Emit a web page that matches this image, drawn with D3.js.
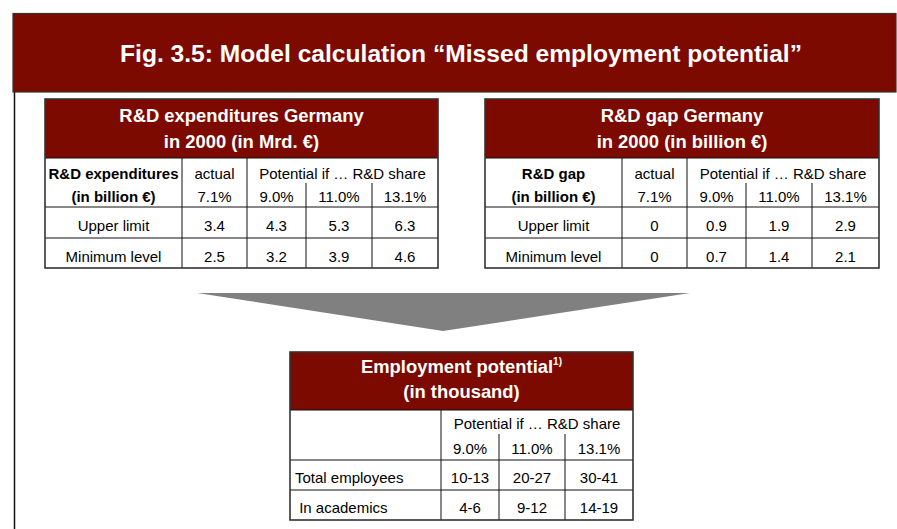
<!DOCTYPE html>
<html><head><meta charset="utf-8">
<script src="https://cdn.jsdelivr.net/npm/d3@7"></script>
<style>
html,body{margin:0;padding:0;background:#fff;}
svg{display:block;font-family:"Liberation Sans",Arial,sans-serif;}
text{white-space:pre;}
</style></head>
<body>
<script>
// ---------- data ----------
const figTitle = "Fig. 3.5: Model calculation \u201CMissed employment potential\u201D";
const expTitle = ["R&D expenditures Germany", "in 2000 (in Mrd. \u20AC)"];
const expHead = ["R&D expenditures", "(in billion \u20AC)"];
const gapTitle = ["R&D gap Germany", "in 2000 (in billion \u20AC)"];
const gapHead = ["R&D gap", "(in billion \u20AC)"];
const actualLabel = "actual";
const potentialLabel = "Potential if \u2026 R&D share";
const shares = ["7.1%", "9.0%", "11.0%", "13.1%"];
const rowLabels = ["Upper limit", "Minimum level"];
const expUpper = [3.4, 4.3, 5.3, 6.3];
const expMin = [2.5, 3.2, 3.9, 4.6];
const gapUpper = [0, 0.9, 1.9, 2.9];
const gapMin = [0, 0.7, 1.4, 2.1];
const empTitle = ["Employment potential", "(in thousand)"];
const empNote = "1)";
const empShares = ["9.0%", "11.0%", "13.1%"];
const empRows = ["Total employees", " In academics"];
const empTotal = ["10-13", "20-27", "30-41"];
const empAcad = ["4-6", "9-12", "14-19"];

// ---------- style ----------
const RED = "#7c0a00";
const W = 897, H = 529;
const svg = d3.select("body").append("svg").attr("width", W).attr("height", H);

// banner
svg.append("line").attr("x1", 14.5).attr("x2", 14.5).attr("y1", 92).attr("y2", H)
  .attr("stroke", "#111").attr("stroke-width", 1.5);
svg.append("rect").attr("x", 13).attr("y", 13.5).attr("width", 883).attr("height", 78.5)
  .attr("fill", RED).attr("stroke", "#333").attr("stroke-width", 1.2);
svg.append("text").attr("x", 461).attr("y", 62).attr("text-anchor", "middle")
  .attr("fill", "#fff").attr("font-weight", "bold").attr("font-size", 24.6).text(figTitle);

const fmt = v => String(v);

function drawTable(cfg) {
  const g = svg.append("g");
  const n = cfg.xs.length - 1;
  const col = d3.scaleOrdinal().domain(d3.range(n + 1)).range(cfg.xs);
  const mid = i => (col(i) + col(i + 1)) / 2;
  const y = cfg.ys;
  const x0 = col(0), x1 = col(n);
  g.append("rect").attr("x", x0).attr("y", y.top).attr("width", x1 - x0).attr("height", y.head - y.top)
    .attr("fill", RED);
  cfg.title.forEach((t, i) => {
    const tx = g.append("text").attr("x", (x0 + x1) / 2).attr("y", cfg.titleBase[i])
      .attr("text-anchor", "middle").attr("fill", "#fff").attr("font-weight", "bold")
      .attr("font-size", 18.4).text(t);
    if (i === 0 && cfg.note) {
      tx.append("tspan").attr("font-size", 10).attr("dy", -8).text(cfg.note);
    }
  });
  [y.head, y.r1, y.r2].forEach(yy => g.append("line").attr("x1", x0).attr("x2", x1)
    .attr("y1", yy).attr("y2", yy).attr("stroke", "#111").attr("stroke-width", 1));
  for (let i = 1; i < n; i++) {
    const ys = i > cfg.potStart ? y.sub : y.head;
    g.append("line").attr("x1", col(i)).attr("x2", col(i)).attr("y1", ys).attr("y2", y.bottom)
      .attr("stroke", "#111").attr("stroke-width", 1);
  }
  g.append("rect").attr("x", x0).attr("y", y.top).attr("width", x1 - x0).attr("height", y.bottom - y.top)
    .attr("fill", "none").attr("stroke", "#333").attr("stroke-width", 1.6);

  const txt = (x, yy, s, opt = {}) => g.append("text").attr("x", x).attr("y", yy)
    .attr("text-anchor", opt.anchor || "middle").attr("font-size", 15)
    .attr("font-weight", opt.bold ? "bold" : "normal").attr("fill", "#000").text(s);

  if (cfg.head) cfg.head.forEach((t, i) => txt(mid(0), cfg.headBase[i], t, {bold: true}));
  if (cfg.actual) txt(mid(1), cfg.headBase[0], cfg.actual);
  txt((col(cfg.potStart) + x1) / 2, cfg.headBase[0], potentialLabel);
  cfg.shares.forEach((s, i) => txt(mid(i + cfg.firstShareCol), cfg.headBase[1], s));
  cfg.rows.forEach((r, ri) => {
    if (cfg.rowAnchor === "start") txt(x0 + 5, cfg.rowBase[ri], r, {anchor: "start"});
    else txt(mid(0), cfg.rowBase[ri], r);
    cfg.values[ri].forEach((v, ci) => txt(mid(ci + 1), cfg.rowBase[ri], fmt(v)));
  });
}

drawTable({
  xs: [45, 182, 247, 306, 372, 438],
  ys: {top: 99, head: 158, sub: 183, r1: 207, r2: 238, bottom: 268},
  title: expTitle, titleBase: [122, 148],
  head: expHead, headBase: [179, 202],
  actual: actualLabel, potStart: 2, firstShareCol: 1, shares: shares,
  rows: rowLabels, rowBase: [231, 261.5], values: [expUpper, expMin]
});
drawTable({
  xs: [485, 622, 687, 746, 812, 879],
  ys: {top: 99, head: 158, sub: 183, r1: 207, r2: 238, bottom: 268},
  title: gapTitle, titleBase: [122, 148],
  head: gapHead, headBase: [179, 202],
  actual: actualLabel, potStart: 2, firstShareCol: 1, shares: shares,
  rows: rowLabels, rowBase: [231, 261.5], values: [gapUpper, gapMin]
});

svg.append("path")
  .attr("d", d3.line()([[197, 293], [690, 293], [443, 331]]) + "Z")
  .attr("fill", "#808080");

drawTable({
  xs: [290, 441, 499, 565, 633],
  ys: {top: 352, head: 410, sub: 434, r1: 460, r2: 490, bottom: 520},
  title: empTitle, titleBase: [373, 398], note: empNote,
  head: null, headBase: [429, 454],
  actual: null, potStart: 1, firstShareCol: 1, shares: empShares,
  rows: empRows, rowAnchor: "start", rowBase: [483, 513], values: [empTotal, empAcad]
});
</script>
</body></html>
